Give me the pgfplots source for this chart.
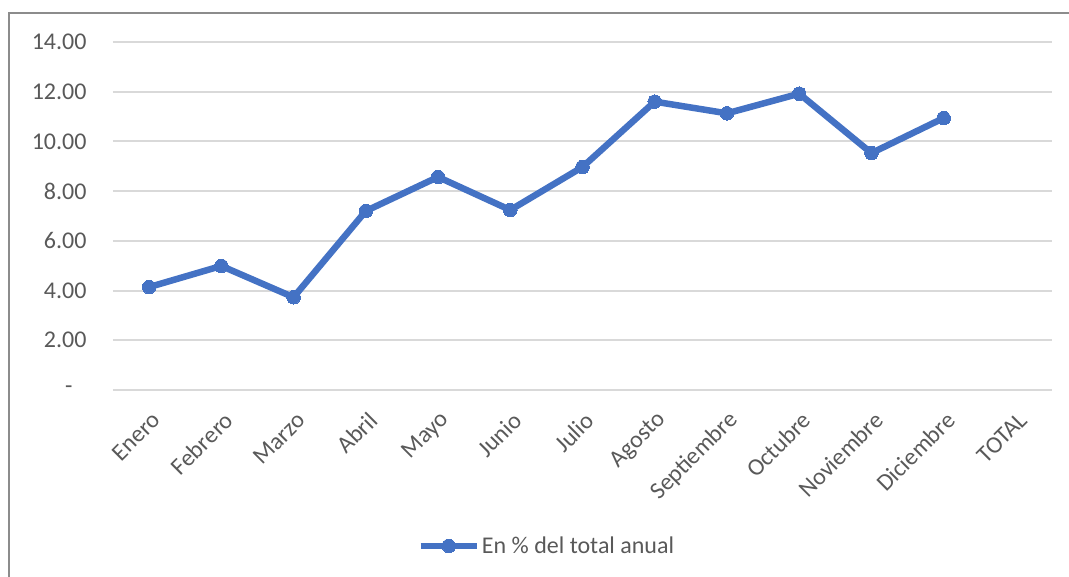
\documentclass[border=0pt]{standalone}
\usepackage{pgfplots}
\pgfplotsset{compat=1.18}
\usepackage{fontspec}
\setmainfont{Carlito}
\definecolor{excelblue}{HTML}{4472C4}
\definecolor{gridgray}{HTML}{D9D9D9}
\definecolor{textgray}{HTML}{595959}
\definecolor{framegray}{HTML}{8C8C8C}
\begin{document}
\begin{tikzpicture}
\useasboundingbox (0pt,0pt) rectangle (1069pt,577pt);
\draw[framegray, line width=2pt] (8.5pt,0pt) -- (8.5pt,563.5pt) -- (1069pt,563.5pt);
\begin{axis}[
  at={(113pt,187pt)}, anchor=south west,
  scale only axis, width=939pt, height=348pt,
  xmin=-0.5, xmax=12.5, ymin=0, ymax=14,
  axis line style={draw=none},
  tick style={draw=none},
  ytick={0,2,4,6,8,10,12,14},
  yticklabels={{\mbox{-\kern14pt}},2.00,4.00,6.00,8.00,10.00,12.00,14.00},
  xtick={0,1,2,3,4,5,6,7,8,9,10,11,12},
  xticklabels={Enero,Febrero,Marzo,Abril,Mayo,Junio,Julio,Agosto,Septiembre,Octubre,Noviembre,Diciembre,TOTAL},
  ymajorgrids, grid style={gridgray, line width=2pt},
  yticklabel style={font=\fontsize{24}{28}\selectfont, text=textgray, xshift=-23pt},
  xticklabel style={font=\fontsize{24}{28}\selectfont, text=textgray, rotate=45, anchor=east, yshift=-24pt, xshift=-10pt},
  legend style={at={(0.462,-0.448)}, anchor=center, draw=none, fill=none,
    font=\fontsize{24}{28}\selectfont, text=textgray},
  legend image code/.code={%
    \draw[mark repeat=2, mark phase=2] plot coordinates {(0pt,0pt) (28pt,0pt) (56pt,0pt)};},
]
\addplot[excelblue, line width=6.5pt, mark=*, mark size=6.8pt, mark options={fill=excelblue, draw=excelblue, line width=0pt}]
  coordinates {(0,4.14) (1,4.99) (2,3.73) (3,7.2) (4,8.57) (5,7.24) (6,8.97) (7,11.6) (8,11.13) (9,11.92) (10,9.53) (11,10.94)};
\addlegendentry{En \% del total anual}
\end{axis}
\end{tikzpicture}
\end{document}
